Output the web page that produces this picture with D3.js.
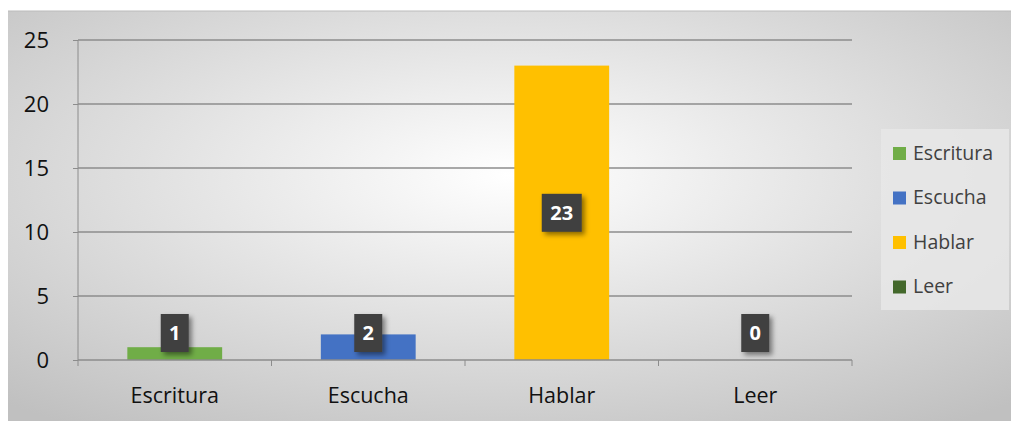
<!DOCTYPE html>
<html><head><meta charset="utf-8">
<script src="https://cdn.jsdelivr.net/npm/d3@7"></script>
<style>html,body{margin:0;padding:0;background:#fff;}svg{display:block;}</style>
</head><body>
<svg id="c" width="1011" height="421"></svg>
<script>
const categories = ["Escritura","Escucha","Hablar","Leer"];
const values = [1,2,23,0];
const colors = ["#70ad47","#4472c4","#ffc000","#43682b"];
const yTicks = [0,5,10,15,20,25];

const svg = d3.select("#c");
const defs = svg.append("defs");
const rg = defs.append("radialGradient").attr("id","bg").attr("cx","50%").attr("cy","40%").attr("r","75%");
rg.append("stop").attr("offset","0%").attr("stop-color","#ffffff");
rg.append("stop").attr("offset","100%").attr("stop-color","#c0c0c0");
const f = defs.append("filter").attr("id","sh").attr("x","-50%").attr("y","-50%").attr("width","200%").attr("height","200%");
f.append("feDropShadow").attr("dx",3).attr("dy",3).attr("stdDeviation",2.5).attr("flood-color","#000").attr("flood-opacity",0.45);

svg.append("rect").attr("x",8).attr("y",11).attr("width",1003).attr("height",410).attr("fill","url(#bg)");
svg.append("line").attr("x1",8).attr("x2",1011).attr("y1",11).attr("y2",11).attr("stroke","#bbb");

const L=78,R=852,T=40,B=360;
const x = d3.scaleBand().domain(categories).range([L,R]).paddingInner(0.51).paddingOuter(0.255);
const y = d3.scaleLinear().domain([0,25]).range([B,T]);

svg.append("g").selectAll("line").data(yTicks.filter(d=>d>0)).join("line")
  .attr("x1",L).attr("x2",R).attr("y1",d=>y(d)).attr("y2",d=>y(d))
  .attr("stroke","#8c8c8c").attr("stroke-width",1.3);

const ya = svg.append("g").attr("transform",`translate(${L},0)`)
  .call(d3.axisLeft(y).tickValues(yTicks).tickSize(5).tickPadding(24));
ya.select(".domain").attr("stroke","#8c8c8c").attr("d",`M0,${T}V${B}`);
ya.selectAll(".tick line").attr("stroke","#8c8c8c");
ya.selectAll("text").attr("font-family","Open Sans, sans-serif").attr("font-size",22).attr("fill","#111");

svg.append("g").selectAll("rect").data(values).join("rect")
  .attr("x",(d,i)=>x(categories[i])).attr("width",x.bandwidth())
  .attr("y",d=>y(d)).attr("height",d=>B-y(d))
  .attr("fill",(d,i)=>colors[i]);

const xa = svg.append("g").attr("transform",`translate(0,${B})`);
xa.append("line").attr("x1",L).attr("x2",R).attr("stroke","#8c8c8c").attr("stroke-width",1.3);
const step = (R-L)/categories.length;
xa.selectAll(".t").data(d3.range(categories.length+1)).join("line")
  .attr("x1",i=>L+i*step).attr("x2",i=>L+i*step).attr("y1",0).attr("y2",6).attr("stroke","#8c8c8c");
xa.selectAll("text").data(categories).join("text")
  .attr("x",d=>x(d)+x.bandwidth()/2).attr("y",43).attr("text-anchor","middle")
  .attr("font-family","Open Sans, sans-serif").attr("font-size",21.5).attr("fill","#111").text(d=>d);

const lab = svg.append("g").selectAll("g").data(values).join("g")
  .attr("transform",(d,i)=>`translate(${x(categories[i])+x.bandwidth()/2},${Math.min(y(d/2),B-27)})`);
lab.append("rect").attr("x",d=>-(String(d).length*12+16)/2).attr("y",-19)
  .attr("width",d=>String(d).length*12+16).attr("height",38).attr("fill","#404040").attr("filter","url(#sh)");
lab.append("text").attr("text-anchor","middle").attr("dy","0.36em")
  .attr("font-family","Open Sans, sans-serif").attr("font-weight","bold").attr("font-size",20)
  .attr("fill","#fff").text(d=>d);

svg.append("rect").attr("x",881).attr("y",129).attr("width",128).attr("height",181).attr("fill","#e8e8e8").attr("opacity",0.85);
const lg = svg.append("g").selectAll("g").data(categories).join("g")
  .attr("transform",(d,i)=>`translate(893,${153+i*44.5})`);
lg.append("rect").attr("x",0).attr("y",-6).attr("width",13).attr("height",13).attr("fill",(d,i)=>colors[i]);
lg.append("text").attr("x",20).attr("dy","0.35em").attr("font-family","Open Sans, sans-serif")
  .attr("font-size",19.5).attr("fill","#404040").text(d=>d);
</script>
</body></html>
